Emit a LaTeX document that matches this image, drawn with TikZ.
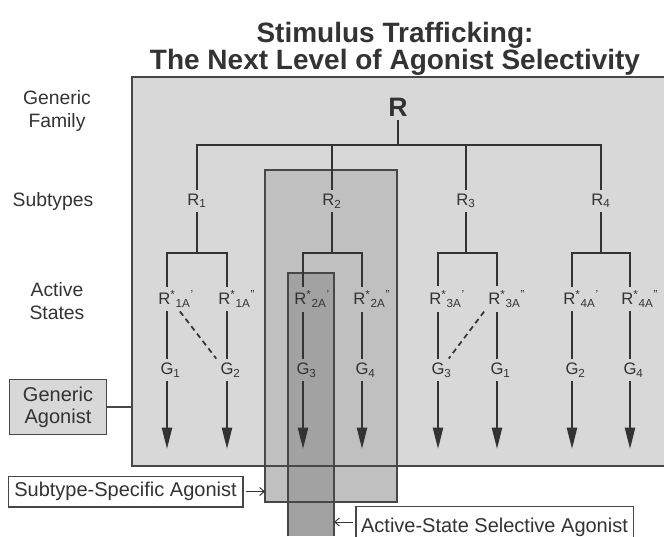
\documentclass[tikz,border=0pt]{standalone}
\usepackage{fontspec}
\setmainfont{Liberation Sans}
\usetikzlibrary{arrows.meta}
\definecolor{ink}{HTML}{333333}
\definecolor{famfill}{HTML}{D8D8D8}
\definecolor{subfill}{HTML}{C0C0C0}
\definecolor{actfill}{HTML}{A2A2A2}
% activated receptor state: R*, subscript and prime(s)
\newcommand\rstate[2]{R\textsuperscript{*}\rlap{\textsubscript{#1}\textsuperscript{#2}}}
\newcommand\gprot[1]{G\rlap{\textsubscript{#1}}}

\begin{document}
\begin{tikzpicture}[x=0.75pt,y=-0.75pt,
  txt/.style={text=ink, inner sep=2pt, font=\fontsize{14.5}{17}\selectfont},
  lab/.style={text=ink, inner sep=3pt, font=\fontsize{12.5}{15}\selectfont},
  wire/.style={draw=ink, line width=1.6pt},
  signal/.style={wire, -{Triangle[width=7.5pt,length=16pt]}},
  frame/.style={draw=ink!90, line width=1pt},
  tag/.style={frame, text=ink, inner sep=3pt, align=center, font=\fontsize{15}{16.5}\selectfont},
  pointer/.style={draw=ink, line width=0.7pt, -{Straight Barb[length=3.5pt,width=6pt]}}
]
\useasboundingbox (0,0) rectangle (664,536);

% title
\node[text=ink, font=\bfseries\fontsize{21}{18}\selectfont, align=center] (title) at (395,49)
  {Stimulus Trafficking:\\The Next Level of Agonist Selectivity};

% shaded panels: receptor family, one subtype, one active state
\coordinate (famL) at (132,77);
\coordinate (subL) at (265,170);
\coordinate (actR) at (334,273);
\fill[famfill] (132,77) rectangle (664,466);
\fill[subfill] (265,170) rectangle (397,502);
\fill[actfill] (288,273) rectangle (334,536);
\draw[frame] (664,77) -- (132,77) -- (132,466) -- (664,466);
\draw[frame] (265,170) rectangle (397,502);
\draw[frame] (288,536) -- (288,273) -- (334,273) -- (334,536);

% row captions
\node[txt, align=center] (fam) at (57,111) {Generic\\Family};
\node[txt] (subt) at (53,201) {Subtypes};
\node[txt, align=center] (act) at (57,301) {Active\\States};

% receptor family and subtypes
\node[text=ink, inner sep=3pt, font=\bfseries\fontsize{20}{24}\selectfont] (R) at (398,107) {R};
\coordinate (top) at (398,145);
\node[lab] (R1) at (197,201) {R\textsubscript{1}};
\node[lab] (R2) at (332,201) {R\textsubscript{2}};
\node[lab] (R3) at (466,201) {R\textsubscript{3}};
\node[lab] (R4) at (601,201) {R\textsubscript{4}};
\draw[wire] (R) -- (top);
\draw[wire] (R1) -- (R1 |- top) -- (R4 |- top) -- (R4);
\draw[wire] (R2) -- (R2 |- top);
\draw[wire] (R3) -- (R3 |- top);

% active states, coupled G proteins and signals
\foreach \i/\x/\s/\p/\g in {1/167/1A/'/1, 2/227/1A/''/2, 3/303/2A/'/3, 4/362/2A/''/4,
                            5/438/3A/'/3, 6/497/3A/''/1, 7/572/4A/'/2, 8/630/4A/''/4}{
  \node[lab] (s\i) at (\x,299) {\rstate{\s}{\p}};
  \node[lab] (g\i) at (\x,370) {\gprot{\g}};
  \coordinate (t\i) at (\x,449);
  \draw[wire] (s\i) -- (g\i);
  \draw[signal] (g\i) -- (t\i);
}

% each subtype branches into two active states
\coordinate (b1) at (197,253);
\coordinate (b2) at (332,253);
\coordinate (b3) at (466,253);
\coordinate (b4) at (601,253);
\foreach \r/\a/\b in {1/1/2, 2/3/4, 3/5/6, 4/7/8}{
  \draw[wire] (R\r) -- (b\r);
  \draw[wire] (s\a) -- (s\a |- b\r) -- (s\b |- b\r) -- (s\b);
}

% promiscuous coupling
\draw[ink, line width=1.3pt, dash pattern=on 4pt off 3pt] (s1.south east) -- (g2.north west);
\draw[ink, line width=1.3pt, dash pattern=on 4pt off 3pt] (s6.south west) -- (g5.north east);

% agonist classes
\node[tag, fill=famfill, minimum width=73pt, minimum height=41pt] (ga) at (58,407) {Generic\\Agonist};
\draw[frame] (ga.east) -- (ga.east -| famL);
\node[tag, fill=white, minimum height=23pt, minimum width=176pt] (ssa) at (125.5,491.5) {Subtype-Specific Agonist};
\draw[pointer] ([xshift=1.5pt]ssa.east) -- (ssa.east -| subL);
\node[tag, fill=white, minimum height=31pt, minimum width=208pt] (asa) at (494.5,527) {Active-State Selective Agonist};
\draw[pointer] ([xshift=-1.5pt]asa.west |- 0,522) -- (actR |- 0,522);
\end{tikzpicture}
\end{document}
